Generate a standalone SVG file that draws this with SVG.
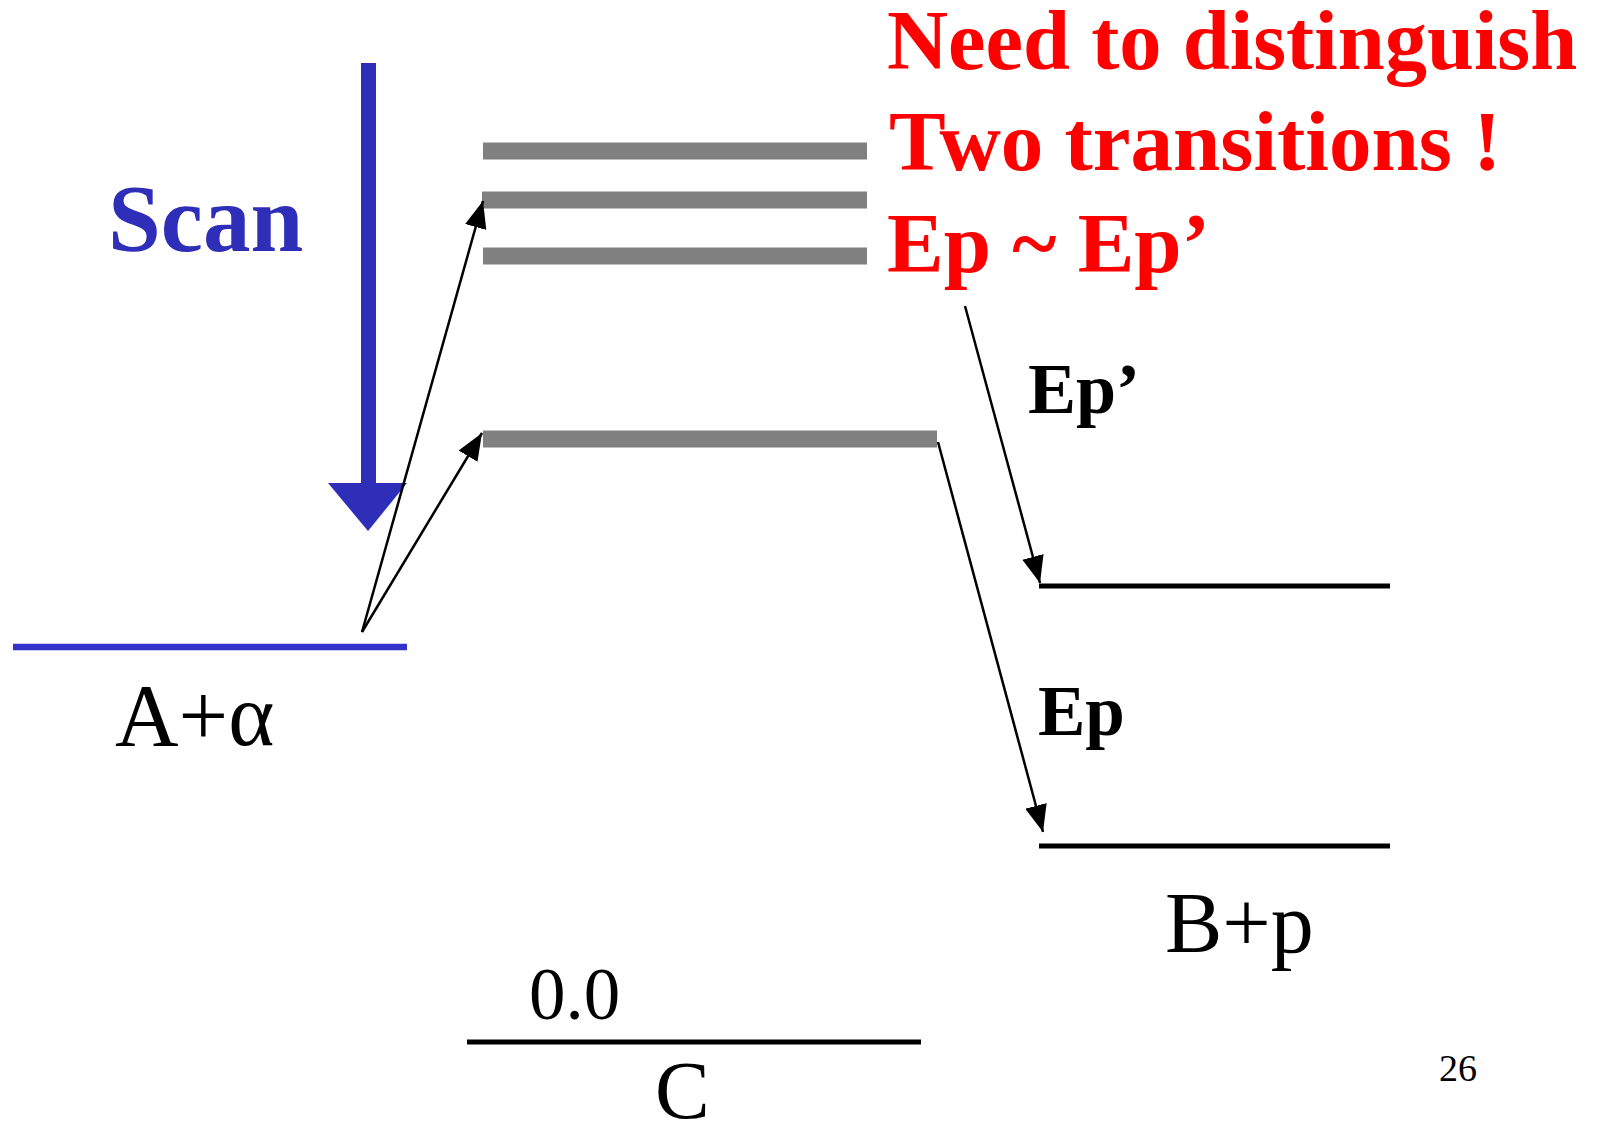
<svg xmlns="http://www.w3.org/2000/svg" width="1600" height="1125" viewBox="0 0 1600 1125">
<style>
.serif{font-family:"Liberation Serif","Times New Roman",serif}
.b{font-weight:bold}
.red{fill:#FF0000}
.blk{fill:#000}
.gray{stroke:#808080;stroke-width:17;fill:none}
.lvl{stroke:#000;stroke-width:5;fill:none}
.conn{stroke:#000;stroke-width:2.5;fill:none;marker-end:url(#ah)}
</style>
<defs>
<marker id="ah" markerUnits="userSpaceOnUse" markerWidth="28" markerHeight="22" refX="27" refY="11" orient="auto" viewBox="0 0 28 22">
<path d="M0,0 L27,11 L0,22 z" fill="#000"/>
</marker>
</defs>
<rect width="1600" height="1125" fill="#fff"/>

<g id="scan">
<polygon points="361,63 376,63 376,483 407,483 368,531 328,483 361,483" fill="#2E2EB8"/>
<text class="serif b" x="108" y="251" font-size="95" fill="#2E2EB8">Scan</text>
</g>

<g id="level-A-alpha">
<line x1="13" y1="647" x2="407" y2="647" stroke="#3333CC" stroke-width="6.5"/>
<text class="serif blk" x="115" y="745" font-size="88">A+α</text>
</g>

<g id="levels-C-excited">
<line class="gray" x1="483" y1="151" x2="867" y2="151"/>
<line class="gray" x1="482" y1="200" x2="867" y2="200"/>
<line class="gray" x1="483" y1="256" x2="867" y2="256"/>
<line class="gray" x1="483" y1="439" x2="937" y2="439"/>
</g>

<g id="level-C-ground">
<line class="lvl" x1="467" y1="1042" x2="921" y2="1042"/>
<text class="serif blk" x="529" y="1019" font-size="73">0.0</text>
<text class="serif blk" x="655" y="1118" font-size="82">C</text>
</g>

<g id="level-B-p">
<line class="lvl" x1="1039" y1="586" x2="1390" y2="586"/>
<line class="lvl" x1="1039" y1="846" x2="1390" y2="846"/>
<text class="serif blk" x="1165" y="952" font-size="86">B+p</text>
</g>

<g id="note">
<text class="serif b red" x="887" y="69" font-size="84.5">Need to distinguish</text>
<text class="serif b red" x="889" y="170" font-size="85">Two transitions !</text>
<text class="serif b red" x="887" y="272" font-size="85">Ep ~ Ep’</text>
</g>

<g id="labels">
<text class="serif b blk" x="1028" y="413" font-size="72">Ep’</text>
<text class="serif b blk" x="1038" y="735" font-size="71">Ep</text>
<text class="serif blk" x="1439" y="1081" font-size="38">26</text>
</g>

<g id="connectors">
<line class="conn" x1="362" y1="632" x2="483" y2="201"/>
<line class="conn" x1="362" y1="632" x2="482" y2="433"/>
<line class="conn" x1="965" y1="306" x2="1040" y2="583"/>
<line class="conn" x1="938" y1="442" x2="1043" y2="832"/>
</g>
</svg>
